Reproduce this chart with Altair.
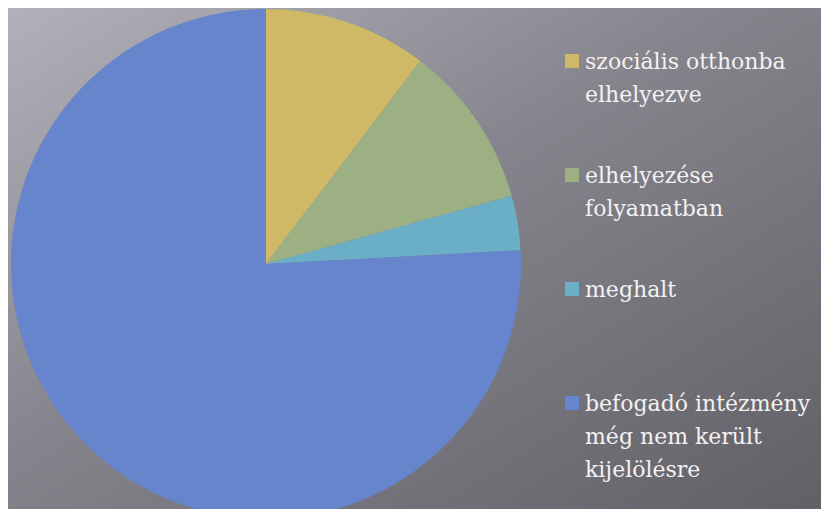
import altair as alt
import pandas as pd

categories = [
    "szociális otthonba elhelyezve",
    "elhelyezése folyamatban",
    "meghalt",
    "befogadó intézmény még nem került kijelölésre",
]
label_lines = [
    "szociális otthonba\nelhelyezve",
    "elhelyezése\nfolyamatban",
    "meghalt",
    "befogadó intézmény\nmég nem került\nkijelölésre",
]
values = [3, 3, 1, 22]
colors = ["#CFB966", "#9CB084", "#6AAFC7", "#6685CC"]

df = pd.DataFrame({
    "kat": categories,
    "label": label_lines,
    "ertek": values,
    "sorrend": list(range(len(categories))),
})

W, H = 813, 501

color_scale = alt.Scale(domain=categories, range=colors)

bg = alt.Chart(pd.DataFrame({"a": [0]})).mark_rect(
    fill=alt.Gradient(
        gradient="linear",
        stops=[
            alt.GradientStop(color="#b2b0b8", offset=0),
            alt.GradientStop(color="#85838b", offset=0.45),
            alt.GradientStop(color="#626067", offset=1),
        ],
        x1=0, y1=0, x2=1, y2=1,
    )
).encode(
    x=alt.value(0), x2=alt.value(W), y=alt.value(0), y2=alt.value(H)
)

pie = alt.Chart(df).mark_arc(radius=255, stroke=None).encode(
    theta=alt.Theta("ertek:Q", stack=True),
    order=alt.Order("sorrend:O"),
    color=alt.Color("kat:N", scale=color_scale, legend=None),
    x=alt.value(258),
    y=alt.value(256),
)

ypos = alt.Y("kat:N", scale=alt.Scale(domain=categories, range=[53, 395], padding=0), axis=None)

squares = alt.Chart(df).mark_square(size=196, opacity=1, filled=True).encode(
    x=alt.value(564),
    y=ypos,
    color=alt.Color("kat:N", scale=color_scale, legend=None),
)

texts = alt.Chart(df).mark_text(
    align="left", baseline="alphabetic", dy=8,
    font="'DejaVu Serif', serif",
    fontSize=22, lineHeight=33, lineBreak="\n", color="#f2f2f2",
).encode(
    x=alt.value(577),
    y=ypos,
    text="label:N",
)

chart = alt.layer(bg, pie, squares, texts).properties(
    width=W, height=H, autosize=alt.AutoSizeParams(type="none"), padding=0
).configure_view(strokeWidth=0).configure(background="#807e86")

chart.save("out.html", embed_options={"renderer": "svg", "actions": False})
